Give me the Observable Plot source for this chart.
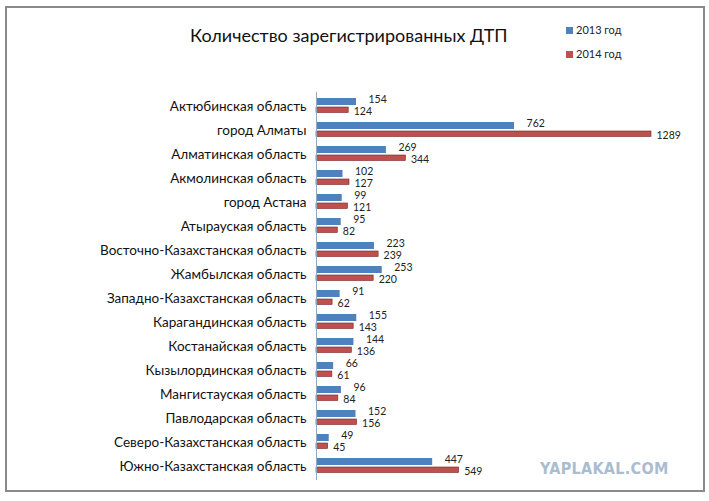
<!DOCTYPE html>
<html><head><meta charset="utf-8">
<script src="https://cdn.jsdelivr.net/npm/d3@7"></script>
<script src="https://cdn.jsdelivr.net/npm/@observablehq/plot@0.6"></script>
<style>
body{margin:0;background:#fff;font-family:Lato,sans-serif;}
#wrap{position:relative;width:709px;height:501px;}
#frame{position:absolute;left:5px;top:6px;width:696px;height:482px;border:2px solid #8a8a8a;}
#title{position:absolute;left:190px;top:24px;font-size:18px;color:#111;}
.leg{position:absolute;left:566px;font-size:11px;color:#222;}
.sw{display:inline-block;width:7px;height:7px;margin-right:3px;}
#wm{position:absolute;left:540px;top:459px;font:bold 16px "DejaVu Sans Condensed","DejaVu Sans",sans-serif;color:#a9bcd0;letter-spacing:0.3px;}
#chart{position:absolute;left:0;top:0;}
</style></head><body>
<div id="wrap"><div id="frame"></div><div id="chart"></div>
<div id="title">Количество зарегистрированных ДТП</div>
<div class="leg" style="top:23px"><span class="sw" style="background:#4f81bd"></span>2013 год</div>
<div class="leg" style="top:47px"><span class="sw" style="background:#c0504d"></span>2014 год</div>
<div id="wm">YAPLAKAL.COM</div>
</div>
<script>
const regions = ["Актюбинская область","город Алматы","Алматинская область","Акмолинская область","город Астана","Атырауская область","Восточно-Казахстанская область","Жамбылская область","Западно-Казахстанская область","Карагандинская область","Костанайская область","Кызылординская область","Мангистауская область","Павлодарская область","Северо-Казахстанская область","Южно-Казахстанская область"];
const v2013 = [154,762,269,102,99,95,223,253,91,155,144,66,96,152,49,447];
const v2014 = [124,1289,344,127,121,82,239,220,62,143,136,61,84,156,45,549];
const d13 = regions.map((r,i)=>({r,v:v2013[i]}));
const d14 = regions.map((r,i)=>({r,v:v2014[i]}));
const chart = Plot.plot({
  width:709,height:501,marginLeft:316,marginTop:92,marginBottom:21,marginRight:58,
  style:{fontFamily:"Lato, sans-serif",background:"transparent"},
  x:{domain:[0,1289],axis:null},
  y:{domain:regions,padding:0,label:null},
  marks:[
    Plot.axisY({tickSize:0,tickPadding:10,fontSize:13.5,fill:"#111"}),
    Plot.barX(d13,{x:"v",y:"r",fill:"#4f81bd",insetTop:4,insetBottom:13}),
    Plot.barX(d14,{x:"v",y:"r",fill:"#c0504d",stroke:"#7a2422",strokeWidth:0.6,insetTop:13,insetBottom:5.5}),
    Plot.text(d13,{x:"v",y:"r",text:d=>String(d.v),textAnchor:"start",dx:12,dy:-7,fontSize:10.5,fill:"#222"}),
    Plot.text(d14,{x:"v",y:"r",text:d=>String(d.v),textAnchor:"start",dx:5,dy:5,fontSize:10.5,fill:"#222"}),
    Plot.ruleX([0],{stroke:"#8ea9c8"})
  ]
});
document.getElementById("chart").append(chart);
</script></body></html>
